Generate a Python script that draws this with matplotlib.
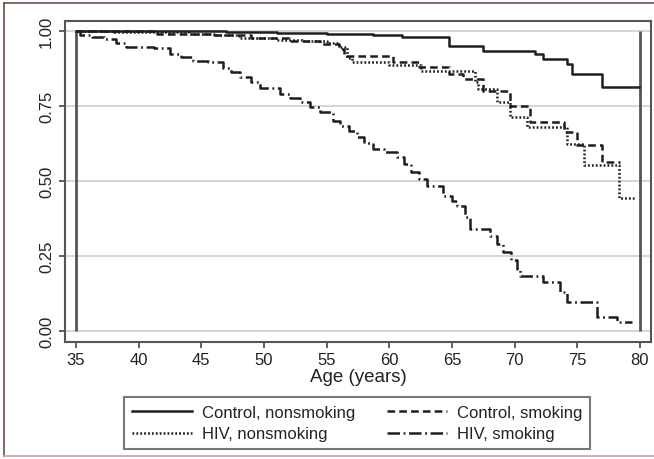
import matplotlib
matplotlib.use("Agg")
import matplotlib.pyplot as plt
from matplotlib.lines import Line2D

plt.rcParams['font.family'] = ['Liberation Sans', 'DejaVu Sans']
plt.rcParams['lines.scale_dashes'] = False

################## Data ##################

# Control, nonsmoking (solid)
ctrl_ns_age = [35, 47, 51, 55, 58.7, 61.0, 64.8, 67.5, 71.6, 72.3, 74.2, 74.6, 77.0, 79.9]
ctrl_ns_surv = [1.0, 0.997, 0.993, 0.990, 0.985, 0.979, 0.951, 0.934, 0.923, 0.907, 0.890, 0.857, 0.812, 0.812]

# Control, smoking (dashed)
ctrl_s_age = [35, 41.5, 46, 49, 52, 54.5, 56.0, 56.4, 60.3, 62.4, 64.8, 65.9, 67.5, 69.6,
              71.2, 73.9, 75.0, 77.0, 78.4]
ctrl_s_surv = [1.0, 0.990, 0.985, 0.978, 0.968, 0.955, 0.940, 0.918, 0.897, 0.880, 0.857, 0.840,
               0.800, 0.751, 0.697, 0.663, 0.620, 0.563, 0.563]

# HIV, nonsmoking (dotted)
hiv_ns_age = [35, 38, 44, 46, 48, 51, 53, 55, 56.0, 56.6, 57.0, 60.0, 62.5, 66.8, 67.1, 68.6,
              69.6, 71.0, 74.2, 75.5, 78.3, 79.6]
hiv_ns_surv = [1.0, 0.997, 0.990, 0.985, 0.977, 0.970, 0.965, 0.960, 0.945, 0.910, 0.896, 0.885,
               0.868, 0.830, 0.807, 0.763, 0.713, 0.680, 0.623, 0.554, 0.443, 0.443]

# HIV, smoking (long dash - dot)
hiv_s_age = [35, 35.3, 36.3, 37.2, 38.2, 39.0, 41.2, 42.5, 43.4, 44.3, 45.5, 46.7, 47.4, 48.1,
             49.0, 49.7, 51.3, 52.1, 52.9, 53.7, 54.5, 55.5, 56.1, 56.8, 57.4, 58.0, 58.7, 59.6,
             60.6, 61.2, 61.7, 62.4, 63.0, 64.3, 65.0, 65.4, 66.0, 66.4, 68.0, 68.6, 69.1, 69.7,
             70.2, 70.4, 72.3, 73.6, 74.2, 76.6, 78.2, 79.4]
hiv_s_surv = [1.0, 0.988, 0.980, 0.973, 0.960, 0.948, 0.943, 0.923, 0.912, 0.900, 0.896, 0.876,
              0.862, 0.847, 0.830, 0.810, 0.790, 0.777, 0.763, 0.747, 0.730, 0.700, 0.684, 0.665,
              0.647, 0.627, 0.607, 0.595, 0.580, 0.555, 0.530, 0.505, 0.483, 0.450, 0.432, 0.417,
              0.380, 0.340, 0.317, 0.290, 0.263, 0.235, 0.207, 0.184, 0.163, 0.130, 0.097, 0.048,
              0.031, 0.031]

labels = ["Control, nonsmoking", "Control, smoking", "HIV, nonsmoking", "HIV, smoking"]
x_ticks = [35, 40, 45, 50, 55, 60, 65, 70, 75, 80]
y_ticks = [0.0, 0.25, 0.5, 0.75, 1.0]
y_ticklabels = ["0.00", "0.25", "0.50", "0.75", "1.00"]

################## Plot ##################

W, H = 654, 460
fig = plt.figure(figsize=(W / 100, H / 100), dpi=100)
fig.patch.set_facecolor("white")

ax = fig.add_axes([65 / W, 1 - 343 / H, (651 - 65) / W, (343 - 21.5) / H])
ax.set_xlim(34.12, 80.88)
ax.set_ylim(-0.0367, 1.035)

line_col = "#1e1e1e"
lw = 1.8
styles = {
    "Control, nonsmoking": "-",
    "Control, smoking": (0, (5.5, 3.0)),
    "HIV, nonsmoking": (0, (1.3, 1.5)),
    "HIV, smoking": (0, (9.0, 2.6, 1.3, 2.6)),
}

# gridlines
for yv in y_ticks:
    ax.axhline(yv, color="#d2d2d2", lw=1.3, zorder=1)
# vertical lines at start and end of follow-up
ax.vlines([35, 80], 0, 1, color="#555555", lw=2.0, zorder=2)

ax.step(ctrl_ns_age, ctrl_ns_surv, where="post", color=line_col, lw=lw,
        ls=styles["Control, nonsmoking"], zorder=3)
ax.step(ctrl_s_age, ctrl_s_surv, where="post", color=line_col, lw=lw,
        ls=styles["Control, smoking"], zorder=3)
ax.step(hiv_ns_age, hiv_ns_surv, where="post", color=line_col, lw=lw,
        ls=styles["HIV, nonsmoking"], zorder=3)
ax.step(hiv_s_age, hiv_s_surv, where="post", color=line_col, lw=lw,
        ls=styles["HIV, smoking"], zorder=3)

for sp in ax.spines.values():
    sp.set_color("#555555")
    sp.set_linewidth(1.5)

ax.set_xticks(x_ticks)
ax.set_yticks(y_ticks)
ax.set_yticklabels(y_ticklabels, rotation=90, va="center")
ax.tick_params(axis="both", length=4, width=1.3, color="#555555", labelsize=12,
               labelcolor="#222222")
ax.tick_params(axis="y", pad=4)
ax.tick_params(axis="x", pad=3)
ax.set_xlabel("Age (years)", fontsize=13.5, color="#222222", labelpad=1)

# legend, two columns (row-wise like the reference)
handles = {lab: Line2D([], [], color=line_col, lw=lw, ls=styles[lab]) for lab in labels}
order = ["Control, nonsmoking", "HIV, nonsmoking", "Control, smoking", "HIV, smoking"]
leg = fig.legend([handles[k] for k in order], order, loc="center",
                 bbox_to_anchor=(357 / W, 1 - 424 / H), ncol=2, fontsize=12,
                 frameon=True, fancybox=False, handlelength=3.6, columnspacing=1.9,
                 handletextpad=0.6, labelspacing=0.4, borderpad=0.45)
leg.get_frame().set_edgecolor("#555555")
leg.get_frame().set_linewidth(1.5)
for t in leg.get_texts():
    t.set_color("#222222")

# outer page frame (top, left, bottom)
fig.add_artist(Line2D([4 / W, 1], [1 - 4 / H, 1 - 4 / H], color="#6e4c44", lw=1.2))
fig.add_artist(Line2D([4 / W, 4 / W], [1 - 4 / H, 1 - 457 / H], color="#6e4c44", lw=1.2))
fig.add_artist(Line2D([4 / W, 1], [1 - 457 / H, 1 - 457 / H], color="#c8a49c", lw=1.2))

plt.savefig("out.png", dpi=100)
